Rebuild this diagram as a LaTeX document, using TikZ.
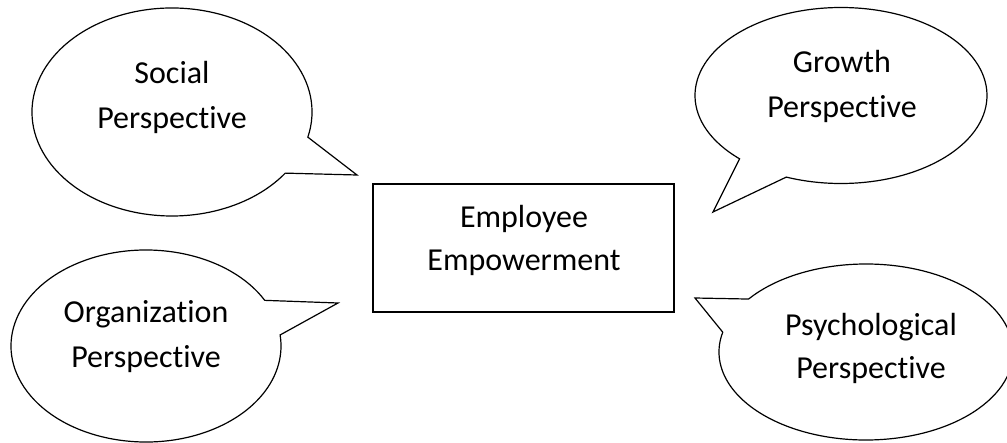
\documentclass[tikz,border=0pt]{standalone}
\usepackage{fontspec}
\setmainfont{Carlito}[Ligatures=CommonOff]
\begin{document}
\begin{tikzpicture}[x=1pt,y=-1pt, line width=1.2pt,
  lbl/.style={font=\fontsize{32}{38}\selectfont, anchor=base, inner sep=0pt},
  bubble/.style={draw=black, line join=miter}]
\useasboundingbox (0,0) rectangle (1007,442);
% Social
\coordinate (S) at (172,112);
\coordinate (St) at (357,175);
\draw[bubble] (S) ++(14:140 and 104) arc[start angle=14, end angle=-324, x radius=140, y radius=104] -- (St) -- cycle;
% Growth
\coordinate (G) at (841,95.5);
\coordinate (Gt) at (713,212);
\draw[bubble] (G) ++(134:146 and 88) arc[start angle=134, end angle=472, x radius=146, y radius=88] -- (Gt) -- cycle;
% Organization
\coordinate (O) at (146,346);
\coordinate (Ot) at (338,303);
\draw[bubble] (O) ++(-28.4:135 and 96) arc[start angle=-28.4, end angle=-366.6, x radius=135, y radius=96] -- (Ot) -- cycle;
% Psychological
\coordinate (P) at (866,352);
\coordinate (Pt) at (695,298);
\draw[bubble] (P) ++(217:147 and 88) arc[start angle=217, end angle=553, x radius=147, y radius=88] -- (Pt) -- cycle;
% texts
\node[lbl] (s1) at (172,83) {Social};
\node[lbl] (s2) at (172,128) {Perspective};
\node[lbl] (g1) at (842,72) {Growth};
\node[lbl] (g2) at (842,117) {Perspective};
\node[lbl] (o1) at (146,322) {Organization};
\node[lbl] (o2) at (146,367) {Perspective};
\node[lbl] (p1) at (871,335) {Psychological};
\node[lbl] (p2) at (871,378) {Perspective};
% centre box
\node[draw, minimum width=301pt, minimum height=128pt, inner sep=0pt] (box) at (523.5,248) {};
\node[lbl] (e1) at (524,227) {Employee};
\node[lbl] (e2) at (524,270) {Empowerment};
\end{tikzpicture}
\end{document}
